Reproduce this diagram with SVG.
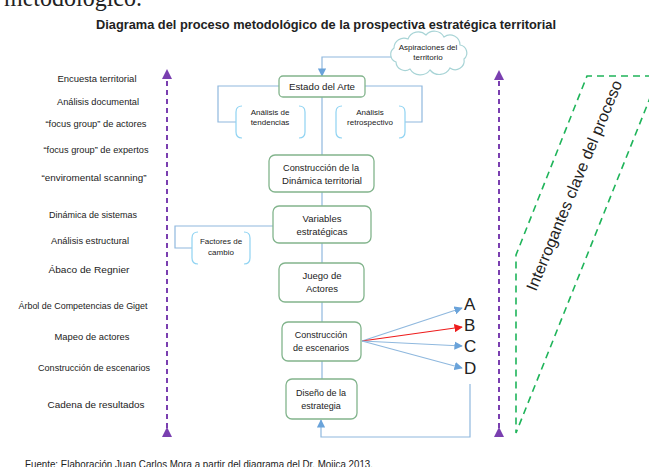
<svg xmlns="http://www.w3.org/2000/svg" width="649" height="467" viewBox="0 0 649 467">
<style>
text{font-family:"Liberation Sans",Arial,sans-serif;fill:#222}
.lbl{font-size:9px;text-anchor:middle}
.bx{font-size:9.5px;text-anchor:middle}
.sm{font-size:8px;text-anchor:middle}
.node rect{fill:#fff;stroke:#82b48c;stroke-width:1.3}
.conn{fill:none;stroke:#8fb8de;stroke-width:1.2}
.brk{fill:none;stroke:#8fd3f2;stroke-width:1.2}
.pur{stroke:#7a3fb0;stroke-width:2;stroke-dasharray:5 4;fill:none}
.grn{stroke:#1fb45a;stroke-width:1.6;stroke-dasharray:7 5;fill:none}
.let{font-size:17px}
</style>
<defs>
<marker id="ab" viewBox="0 0 10 10" refX="9" refY="5" markerWidth="7" markerHeight="7" orient="auto"><path d="M0 0L10 5L0 10z" fill="#6aa3da"/></marker>
<marker id="ar" viewBox="0 0 10 10" refX="9" refY="5" markerWidth="7" markerHeight="7" orient="auto"><path d="M0 0L10 5L0 10z" fill="#ee1c1c"/></marker>
<marker id="ap" viewBox="0 0 10 10" refX="9" refY="5" markerWidth="5" markerHeight="5" orient="auto"><path d="M0 0L10 5L0 10z" fill="#7a3fb0"/></marker>
</defs>
<rect width="649" height="467" fill="#fff"/>
<text x="4" y="6" style="font-family:'Liberation Serif',serif;font-size:26px" textLength="138" lengthAdjust="spacingAndGlyphs">metodológico.</text>
<text x="326" y="29" style="font-size:12px;font-weight:bold;text-anchor:middle" textLength="460" lengthAdjust="spacingAndGlyphs">Diagrama del proceso metodológico de la prospectiva estratégica territorial</text>

<g id="left-labels">
<text class="lbl" x="97" y="82" textLength="79" lengthAdjust="spacingAndGlyphs">Encuesta territorial</text>
<text class="lbl" x="98" y="105" textLength="82" lengthAdjust="spacingAndGlyphs">Análisis documental</text>
<text class="lbl" x="96" y="127" textLength="101" lengthAdjust="spacingAndGlyphs">“focus group”  de actores</text>
<text class="lbl" x="96" y="153" textLength="105" lengthAdjust="spacingAndGlyphs">“focus group”  de expertos</text>
<text class="lbl" x="94" y="181" textLength="105" lengthAdjust="spacingAndGlyphs">“enviromental  scanning”</text>
<text class="lbl" x="93" y="218" textLength="88" lengthAdjust="spacingAndGlyphs">Dinámica de sistemas</text>
<text class="lbl" x="90" y="244" textLength="78" lengthAdjust="spacingAndGlyphs">Análisis estructural</text>
<text class="lbl" x="89" y="273" textLength="81" lengthAdjust="spacingAndGlyphs">Ábaco de Regnier</text>
<text class="lbl" x="83" y="309" textLength="129" lengthAdjust="spacingAndGlyphs">Árbol de Competencias de Giget</text>
<text class="lbl" x="92" y="340" textLength="75" lengthAdjust="spacingAndGlyphs">Mapeo de actores</text>
<text class="lbl" x="94" y="371" textLength="112" lengthAdjust="spacingAndGlyphs">Construcción de escenarios</text>
<text class="lbl" x="96" y="408" textLength="97" lengthAdjust="spacingAndGlyphs">Cadena de resultados</text>
</g>

<g id="dashed-arrows">
<line class="pur" x1="167" y1="428" x2="167" y2="70" marker-end="url(#ap)" marker-start="url(#ap)"/>
<line class="pur" x1="499" y1="428" x2="499" y2="71" marker-end="url(#ap)" marker-start="url(#ap)"/>
<path class="grn" d="M652 76L587 76L516 255L516 433L650 98"/>
<text transform="translate(536,292) rotate(-67.5)" style="font-size:16px" textLength="226" lengthAdjust="spacingAndGlyphs">Interrogantes clave del proceso</text>
</g>

<g id="connectors">
<path class="conn" d="M391 57L322 57L322 76" marker-end="url(#ab)"/>
<path class="conn" d="M279 86L218 86L218 122L236 122"/>
<path class="conn" d="M365 86L422 86L422 122L405 122"/>
<line class="conn" x1="322" y1="97" x2="322" y2="155"/>
<line class="conn" x1="322" y1="192" x2="322" y2="206"/>
<path class="conn" d="M273 226L175 226L175 248L192 248"/>
<line class="conn" x1="322" y1="243" x2="322" y2="263"/>
<line class="conn" x1="322" y1="302" x2="322" y2="322"/>
<line class="conn" x1="322" y1="361" x2="322" y2="379"/>
<line class="conn" x1="362" y1="341" x2="462" y2="308" marker-end="url(#ab)"/>
<line class="conn" x1="362" y1="341" x2="462" y2="327" style="stroke:#ee1c1c" marker-end="url(#ar)"/>
<line class="conn" x1="362" y1="341" x2="462" y2="346" marker-end="url(#ab)"/>
<line class="conn" x1="362" y1="341" x2="462" y2="368" marker-end="url(#ab)"/>
<path class="conn" d="M470 384L470 437L321 437L321 420" marker-end="url(#ab)"/>
</g>

<g id="aspiraciones">
<path d="M396 62a8 8 0 0 1-2-14a10 10 0 0 1 14-9a11 11 0 0 1 18-4a11 11 0 0 1 18 2a10 10 0 0 1 16 8a8 8 0 0 1 4 14a9 9 0 0 1-14 9a12 12 0 0 1-20 2a12 12 0 0 1-20-1a9 9 0 0 1-14-7z" fill="#fff" stroke="#a8d4d6" stroke-width="1.2"/>
<text class="sm" x="428" y="50">Aspiraciones del</text>
<text class="sm" x="428" y="60">territorio</text>
</g>

<g id="estado" class="node">
<rect x="279" y="76" width="86" height="21" rx="4"/>
<text class="bx" x="322" y="90" textLength="66" lengthAdjust="spacingAndGlyphs">Estado  del Arte</text>
</g>

<g id="tendencias">
<path class="brk" d="M242 106Q236 106 236 112L236 132Q236 138 242 138M299 106Q305 106 305 112L305 132Q305 138 299 138"/>
<text class="sm" x="270" y="115">Análisis de</text>
<text class="sm" x="270" y="125">tendencias</text>
</g>

<g id="retrospectivo">
<path class="brk" d="M342 106Q336 106 336 112L336 132Q336 138 342 138M399 106Q405 106 405 112L405 132Q405 138 399 138"/>
<text class="sm" x="370" y="115">Análisis</text>
<text class="sm" x="370" y="125">retrospectivo</text>
</g>

<g id="dinamica" class="node">
<rect x="269" y="155" width="105" height="37" rx="6"/>
<text class="bx" x="321" y="171" textLength="76" lengthAdjust="spacingAndGlyphs">Construcción  de la</text>
<text class="bx" x="322" y="184" textLength="80" lengthAdjust="spacingAndGlyphs">Dinámica territorial</text>
</g>

<g id="variables" class="node">
<rect x="273" y="206" width="98" height="37" rx="6"/>
<text class="bx" x="322" y="222">Variables</text>
<text class="bx" x="322" y="235">estratégicas</text>
</g>

<g id="factores">
<path class="brk" d="M198 232Q192 232 192 238L192 258Q192 264 198 264M244 232Q250 232 250 238L250 258Q250 264 244 264"/>
<text class="sm" x="221" y="244">Factores de</text>
<text class="sm" x="221" y="255">cambio</text>
</g>

<g id="juego" class="node">
<rect x="279" y="263" width="85" height="39" rx="6"/>
<text class="bx" x="322" y="279">Juego de</text>
<text class="bx" x="322" y="292">Actores</text>
</g>

<g id="escenarios" class="node">
<rect x="282" y="322" width="79" height="39" rx="6"/>
<text class="bx" x="321" y="338" style="font-size:9px">Construcción</text>
<text class="bx" x="321" y="351" style="font-size:9px">de escenarios</text>
</g>

<g id="diseno" class="node">
<rect x="286" y="379" width="71" height="40" rx="6"/>
<text class="bx" x="321" y="396" style="font-size:9px">Diseño de la</text>
<text class="bx" x="321" y="409" style="font-size:9px">estrategia</text>
</g>

<g id="letters">
<text class="let" x="464" y="310">A</text>
<text class="let" x="464" y="331">B</text>
<text class="let" x="464" y="352">C</text>
<text class="let" x="464" y="374">D</text>
</g>

<text x="25" y="468" style="font-size:10.5px" textLength="348" lengthAdjust="spacingAndGlyphs">Fuente: Elaboración Juan Carlos Mora a partir del diagrama del Dr. Mojica 2013.</text>
</svg>
